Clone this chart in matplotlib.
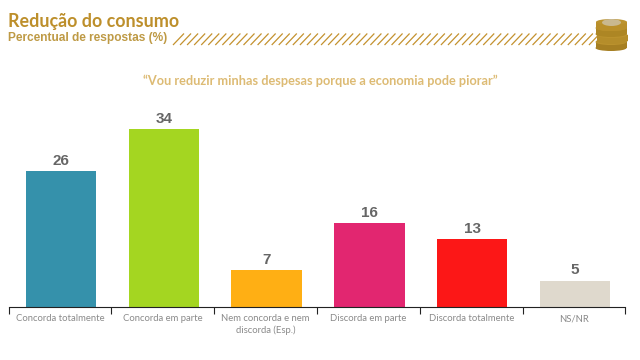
import matplotlib
matplotlib.use("Agg")
import matplotlib.pyplot as plt
from matplotlib.patches import Ellipse, Rectangle
import numpy as np

W, H = 640, 360

categories = ["Concorda totalmente", "Concorda em parte", "Nem concorda e nem\ndiscorda (Esp.)",
              "Discorda em parte", "Discorda totalmente", "NS/NR"]
values = [26, 34, 7, 16, 13, 5]
colors = ["#3591AB", "#A4D621", "#FFAF14", "#E22670", "#FC1717", "#DFD9CD"]

GOLD = "#BD8F2B"
fig = plt.figure(figsize=(W / 100, H / 100), dpi=100, facecolor="white")

# fundo em coordenadas de pixel (titulos, faixa, moedas)
bg = fig.add_axes([0, 0, 1, 1]); bg.set_xlim(0, W); bg.set_ylim(H, 0); bg.axis("off")

bg.text(8, 21.5, "Redução do consumo", fontsize=12.9, fontweight="bold", color=GOLD,
        family="Lato", va="center")
bg.text(8, 38.5, "Percentual de respostas (%)", fontsize=8.6, fontweight="bold", color="#BE9A45",
        family="Liberation Sans", va="center")
bg.text(320.5, 80.5, "“Vou reduzir minhas despesas porque a economia pode piorar”", fontsize=9.2,
        fontweight="bold", color="#DDBB74", family="Lato", va="center", ha="center")

# faixa hachurada
for x0 in np.arange(173, 592, 7.05):
    bg.plot([x0, x0 + 11], [45, 33.5], color="#C4922F", lw=0.9, solid_capstyle="butt", zorder=2)

# pilha de moedas, de baixo para cima
for cy, cx, c in [(45, 611, "#A67F22"), (38, 612, "#B58D2A"), (31, 611, "#AD8624"), (25, 611.5, "#B98F2A")]:
    bg.add_patch(Rectangle((cx - 15.5, cy - 3), 31, 6, fc=c, ec="none", zorder=3))
    bg.add_patch(Ellipse((cx, cy + 3), 31, 6, fc=c, ec="none", zorder=3))
    bg.add_patch(Ellipse((cx, cy - 3), 31, 6, fc="#BC932E", ec="none", zorder=3))
bg.add_patch(Ellipse((611.5, 22.5), 19, 7, fc="#C9B88F", ec="none", zorder=5))

# grafico de barras
ax = fig.add_axes([8.5 / W, 1 - 307 / H, (625.5 - 8.5) / W, 207 / H])
ax.patch.set_alpha(0)
x = np.arange(len(values))
ax.bar(x + 0.01, values, width=0.685, color=colors, linewidth=0)
ax.set_xlim(-0.5, len(values) - 0.5)
ax.set_ylim(0, 207 / 5.23)

for xi, v in zip(x, values):
    ax.annotate(str(v), (xi + 0.01, v), xytext=(0, 2.5), textcoords="offset points", ha="center", va="bottom",
                fontsize=11, fontweight="bold", color="#666666", family="Liberation Sans")

for s in ["top", "right", "left"]:
    ax.spines[s].set_visible(False)
ax.spines["bottom"].set_linewidth(0.8)
ax.spines["bottom"].set_color("#222222")
ax.set_yticks([])
ax.set_xticks(np.arange(len(values) + 1) - 0.5)
ax.set_xticklabels([])
ax.tick_params(axis="x", length=5.2, width=0.8, color="#222222")
ax.set_xticks(x, minor=True)
ax.set_xticklabels(categories, minor=True, fontsize=6.8, color="#8A8A8A", family="Lato", linespacing=1.3, va="top")
ax.tick_params(axis="x", which="minor", length=0, pad=5.2)

fig.savefig("out.png", dpi=100)
